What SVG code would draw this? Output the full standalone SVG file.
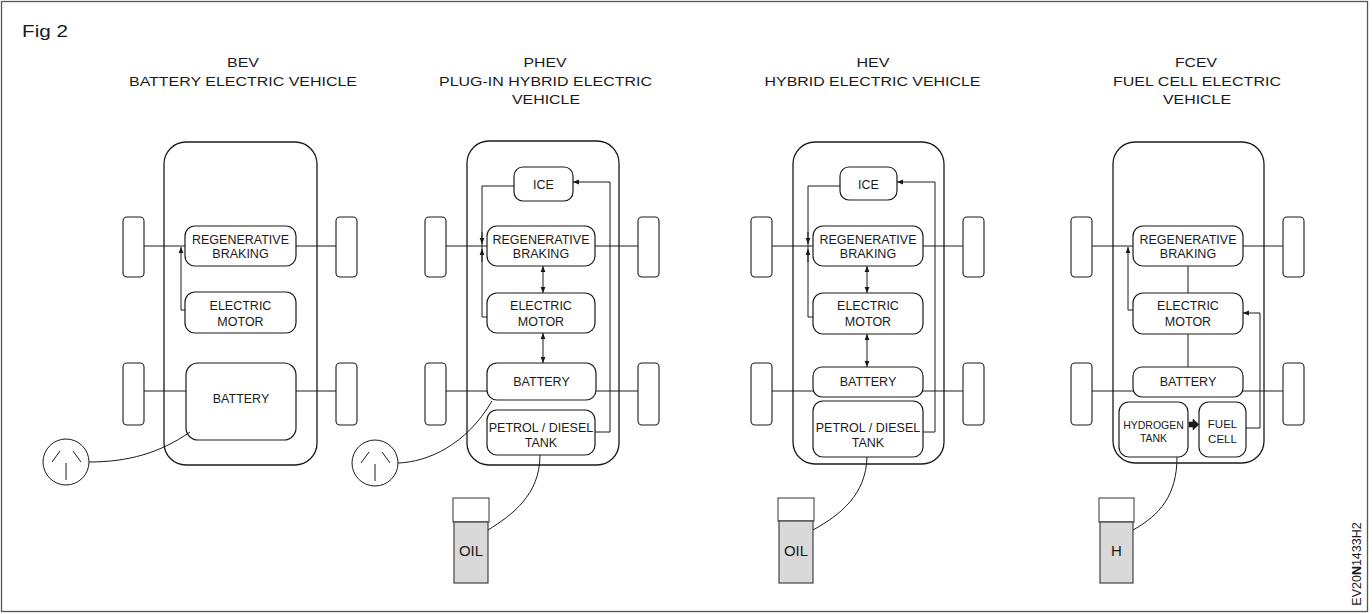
<svg xmlns="http://www.w3.org/2000/svg" width="1372" height="614" viewBox="0 0 1372 614">
  <defs>
    <style>
      .frame { fill: #fff; stroke: #555; stroke-width: 1.3; }
      .body { fill: none; stroke: #1a1a1a; stroke-width: 1.3; }
      .box { fill: #fff; stroke: #1a1a1a; stroke-width: 1.2; }
      .wheel { fill: #fff; stroke: #1a1a1a; stroke-width: 1.1; }
      .ln { fill: none; stroke: #1a1a1a; stroke-width: 1; }
      .arr { marker-end: url(#ah); }
      .dbl { marker-start: url(#ah); marker-end: url(#ah); }
      .capb { fill: #fff; stroke: #555; stroke-width: 1.2; }
      .can { fill: #d9d9d9; stroke: #333; stroke-width: 1.1; }
      text { font-family: "Liberation Sans", Arial, sans-serif; fill: #1a1a1a; text-anchor: middle; }
      .t { font-size: 12.5px; }
      .ttl { font-size: 12.5px; }
      .sm { font-size: 10.5px; }
      .fc { font-size: 11.5px; }
      .big { font-size: 15px; }
    </style>
    <marker id="ah" viewBox="0 0 6 6" refX="6" refY="3" markerWidth="6" markerHeight="6" markerUnits="userSpaceOnUse" orient="auto-start-reverse">
      <path d="M0,0.6 L6,3 L0,5.4 z" fill="#1a1a1a"/>
    </marker>
  </defs>

  <rect class="frame" x="1.5" y="1.5" width="1366" height="610"/>
  <text x="22" y="37" style="font-size:17px;text-anchor:start" textLength="46" lengthAdjust="spacingAndGlyphs">Fig 2</text>

  <!-- titles -->
  <g id="titles" class="ttl">
    <text x="243" y="67" textLength="32" lengthAdjust="spacingAndGlyphs">BEV</text>
    <text x="243" y="85.5" textLength="228" lengthAdjust="spacingAndGlyphs">BATTERY ELECTRIC VEHICLE</text>
    <text x="545" y="67" textLength="43" lengthAdjust="spacingAndGlyphs">PHEV</text>
    <text x="545.5" y="85.5" textLength="213" lengthAdjust="spacingAndGlyphs">PLUG-IN HYBRID ELECTRIC</text>
    <text x="546" y="104" textLength="68" lengthAdjust="spacingAndGlyphs">VEHICLE</text>
    <text x="873" y="67" textLength="33" lengthAdjust="spacingAndGlyphs">HEV</text>
    <text x="872.5" y="85.5" textLength="216" lengthAdjust="spacingAndGlyphs">HYBRID ELECTRIC VEHICLE</text>
    <text x="1196" y="67" textLength="42" lengthAdjust="spacingAndGlyphs">FCEV</text>
    <text x="1197" y="85.5" textLength="168" lengthAdjust="spacingAndGlyphs">FUEL CELL ELECTRIC</text>
    <text x="1197" y="104" textLength="68" lengthAdjust="spacingAndGlyphs">VEHICLE</text>
  </g>

  <!-- BEV -->
  <g id="bev">
    <rect class="body" x="164" y="142" width="153" height="323" rx="22"/>
    <rect class="wheel" x="123" y="217" width="21" height="60" rx="4"/>
    <rect class="wheel" x="336" y="217" width="21" height="60" rx="4"/>
    <rect class="wheel" x="123" y="363" width="21" height="62" rx="4"/>
    <rect class="wheel" x="336" y="363" width="21" height="62" rx="4"/>
    <g id="bev-regen">
      <rect class="box" x="185" y="226" width="111" height="40" rx="10"/>
      <text class="t" x="240.5" y="244">REGENERATIVE</text>
      <text class="t" x="240.5" y="258">BRAKING</text>
    </g>
    <g id="bev-motor">
      <rect class="box" x="185" y="292" width="111" height="41" rx="10"/>
      <text class="t" x="240.5" y="310">ELECTRIC</text>
      <text class="t" x="240.5" y="326">MOTOR</text>
    </g>
    <g id="bev-battery">
      <rect class="box" x="186" y="363" width="110" height="77" rx="12"/>
      <text class="t" x="241" y="403">BATTERY</text>
    </g>
    <g id="bev-plug">
      <circle class="ln" cx="66" cy="462" r="23"/>
      <path class="ln" d="M52,462 L60,451 M73,451 L81,462 M66,463 V480"/>
    </g>
  </g>

  <!-- PHEV -->
  <g id="phev">
    <rect class="body" x="467" y="141" width="152" height="324" rx="22"/>
    <rect class="wheel" x="425" y="217" width="21" height="60" rx="4"/>
    <rect class="wheel" x="638" y="217" width="21" height="60" rx="4"/>
    <rect class="wheel" x="425" y="363" width="21" height="62" rx="4"/>
    <rect class="wheel" x="638" y="363" width="21" height="62" rx="4"/>
    <g id="phev-ice">
      <rect class="box" x="514" y="167" width="59" height="34" rx="9"/>
      <text class="t" x="543.5" y="188.5">ICE</text>
    </g>
    <g id="phev-regen">
      <rect class="box" x="487" y="226" width="108" height="40" rx="10"/>
      <text class="t" x="541" y="244">REGENERATIVE</text>
      <text class="t" x="541" y="258">BRAKING</text>
    </g>
    <g id="phev-motor">
      <rect class="box" x="487" y="293" width="108" height="40" rx="10"/>
      <text class="t" x="541" y="310">ELECTRIC</text>
      <text class="t" x="541" y="326">MOTOR</text>
    </g>
    <g id="phev-battery">
      <rect class="box" x="487" y="363" width="109" height="37" rx="10"/>
      <text class="t" x="541.5" y="386">BATTERY</text>
    </g>
    <g id="phev-tank">
      <rect class="box" x="487" y="410" width="108" height="45" rx="10"/>
      <text class="t" x="541" y="432">PETROL / DIESEL</text>
      <text class="t" x="541" y="447">TANK</text>
    </g>
    <g id="phev-plug">
      <circle class="ln" cx="375" cy="463" r="23"/>
      <path class="ln" d="M361,463 L369,452 M382,452 L390,463 M375,464 V481"/>
    </g>
    <g id="phev-oil">
      <rect class="capb" x="453" y="498" width="36" height="24"/>
      <rect class="can" x="454" y="522" width="34" height="61"/>
      <text class="big" x="471" y="556">OIL</text>
    </g>
  </g>

  <!-- HEV -->
  <g id="hev">
    <rect class="body" x="793" y="142" width="151" height="322" rx="22"/>
    <rect class="wheel" x="751" y="217" width="21" height="60" rx="4"/>
    <rect class="wheel" x="963" y="217" width="21" height="60" rx="4"/>
    <rect class="wheel" x="751" y="363" width="21" height="62" rx="4"/>
    <rect class="wheel" x="963" y="363" width="21" height="62" rx="4"/>
    <g id="hev-ice">
      <rect class="box" x="840" y="167" width="57" height="33" rx="9"/>
      <text class="t" x="868.5" y="188.5">ICE</text>
    </g>
    <g id="hev-regen">
      <rect class="box" x="813" y="226" width="110" height="40" rx="10"/>
      <text class="t" x="868" y="244">REGENERATIVE</text>
      <text class="t" x="868" y="258">BRAKING</text>
    </g>
    <g id="hev-motor">
      <rect class="box" x="813" y="293" width="110" height="41" rx="10"/>
      <text class="t" x="868" y="310">ELECTRIC</text>
      <text class="t" x="868" y="326">MOTOR</text>
    </g>
    <g id="hev-battery">
      <rect class="box" x="813" y="367" width="110" height="30" rx="9"/>
      <text class="t" x="868" y="386">BATTERY</text>
    </g>
    <g id="hev-tank">
      <rect class="box" x="813" y="401" width="110" height="56" rx="10"/>
      <text class="t" x="868" y="432">PETROL / DIESEL</text>
      <text class="t" x="868" y="447">TANK</text>
    </g>
    <g id="hev-oil">
      <rect class="capb" x="778" y="498" width="36" height="23"/>
      <rect class="can" x="779" y="521" width="34" height="62"/>
      <text class="big" x="796" y="556">OIL</text>
    </g>
  </g>

  <!-- FCEV -->
  <g id="fcev">
    <rect class="body" x="1113" y="142" width="151" height="321" rx="22"/>
    <rect class="wheel" x="1071" y="217" width="21" height="60" rx="4"/>
    <rect class="wheel" x="1283" y="217" width="21" height="60" rx="4"/>
    <rect class="wheel" x="1071" y="363" width="21" height="62" rx="4"/>
    <rect class="wheel" x="1283" y="363" width="21" height="62" rx="4"/>
    <g id="fcev-regen">
      <rect class="box" x="1133" y="226" width="110" height="40" rx="10"/>
      <text class="t" x="1188" y="244">REGENERATIVE</text>
      <text class="t" x="1188" y="258">BRAKING</text>
    </g>
    <g id="fcev-motor">
      <rect class="box" x="1133" y="293" width="110" height="41" rx="10"/>
      <text class="t" x="1188" y="310">ELECTRIC</text>
      <text class="t" x="1188" y="326">MOTOR</text>
    </g>
    <g id="fcev-battery">
      <rect class="box" x="1133" y="367" width="110" height="30" rx="9"/>
      <text class="t" x="1188" y="386">BATTERY</text>
    </g>
    <g id="fcev-h2tank">
      <rect class="box" x="1119" y="402" width="69" height="55" rx="10"/>
      <text class="sm" x="1153.5" y="429">HYDROGEN</text>
      <text class="sm" x="1153.5" y="442">TANK</text>
    </g>
    <g id="fcev-fuelcell">
      <rect class="box" x="1199" y="402" width="47" height="55" rx="10"/>
      <text class="fc" x="1222.5" y="428">FUEL</text>
      <text class="fc" x="1222.5" y="443">CELL</text>
    </g>
    <g id="fcev-h">
      <rect class="capb" x="1099" y="498" width="35" height="24"/>
      <rect class="can" x="1100" y="522" width="33" height="61"/>
      <text class="big" x="1116.5" y="556">H</text>
    </g>
  </g>

  <!-- connectors -->
  <g id="connectors">
    <!-- BEV -->
    <path class="ln" d="M144,246 H185 M296,246 H336 M144,391 H186 M296,391 H336"/>
    <path class="ln arr" d="M185,310 H181 V247"/>
    <path class="ln" d="M89,462 C128,462 160,453 190,432"/>
    <!-- PHEV -->
    <path class="ln" d="M446,246 H487 M595,246 H638 M446,391 H487 M596,391 H638"/>
    <path class="ln" d="M514,186 H482 V317 H487"/>
    <path class="ln arr" d="M482,232 V244"/>
    <path class="ln arr" d="M482,262 V249"/>
    <path class="ln dbl" d="M543,266 V293"/>
    <path class="ln dbl" d="M543,333 V363"/>
    <path class="ln arr" d="M595,432 H610 V182 H573"/>
    <path class="ln" d="M398,463 C428,462 466,445 492,401"/>
    <path class="ln" d="M540,455 C540,495 512,515 488,530"/>
    <!-- HEV -->
    <path class="ln" d="M772,246 H813 M923,246 H963 M772,391 H813 M923,391 H963"/>
    <path class="ln" d="M840,186 H808 V317 H813"/>
    <path class="ln arr" d="M808,232 V244"/>
    <path class="ln arr" d="M808,262 V249"/>
    <path class="ln dbl" d="M867,266 V293"/>
    <path class="ln dbl" d="M867,334 V367"/>
    <path class="ln arr" d="M923,432 H935 V182 H897"/>
    <path class="ln" d="M867,457 C866,495 840,515 813,530"/>
    <!-- FCEV -->
    <path class="ln" d="M1092,246 H1133 M1243,246 H1283 M1092,391 H1133 M1243,391 H1283"/>
    <path class="ln arr" d="M1133,310 H1128 V247"/>
    <path class="ln" d="M1188,266 V293 M1188,334 V367"/>
    <path class="ln arr" d="M1246,428 H1260 V313 H1243"/>
    <path d="M1189,422 H1193 V419 L1199,424.5 L1193,430 V427 H1189 z" fill="#1a1a1a" stroke="#1a1a1a" stroke-width="0.6"/>
    <path class="ln" d="M1177,457 C1177,495 1160,515 1133,530"/>
  </g>

  <text transform="translate(1361,564) rotate(-90)" style="font-size:12.5px">EV20<tspan font-weight="bold">N</tspan>1433H2</text>
</svg>
